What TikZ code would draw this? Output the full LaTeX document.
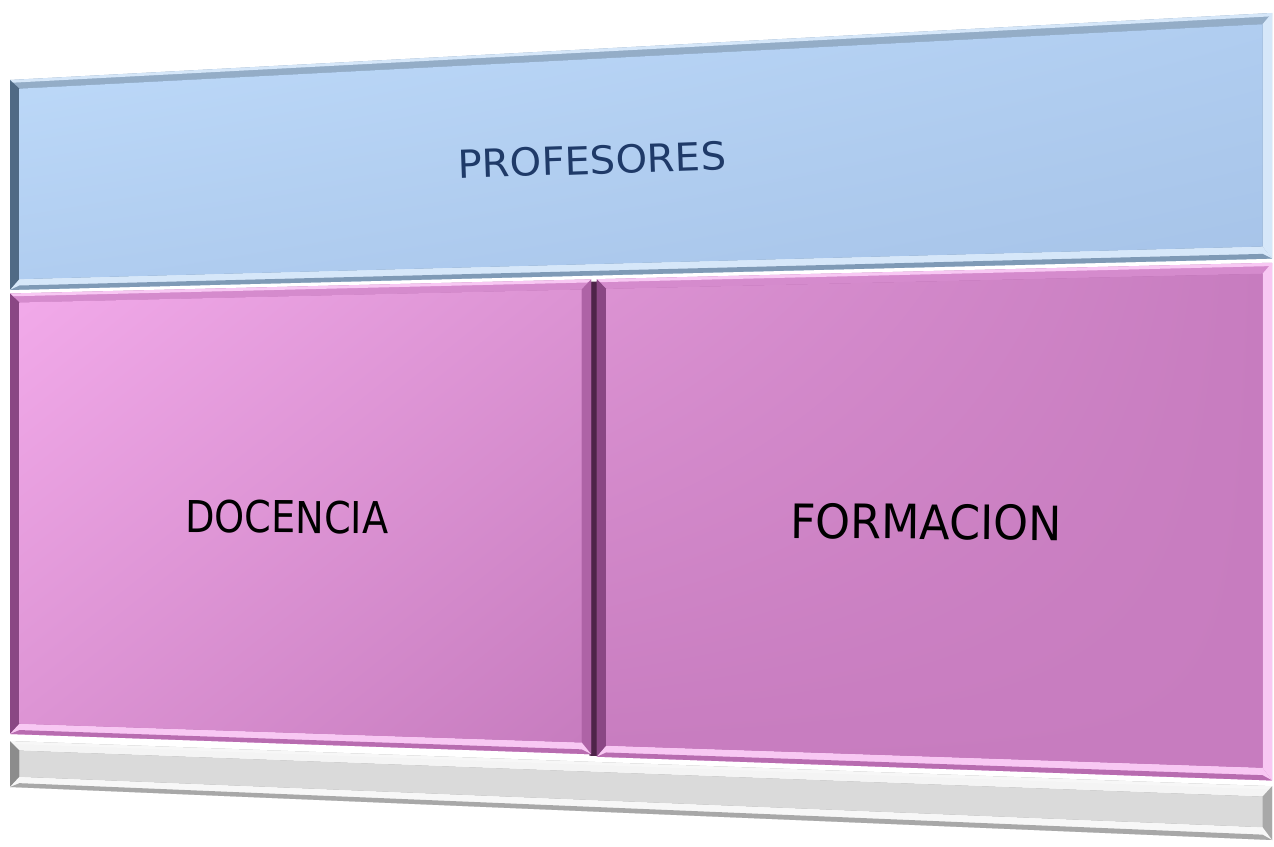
\documentclass[tikz,border=0pt]{standalone}
\usepackage{fontspec}
\setmainfont{DejaVu Sans}
\usetikzlibrary{calc,shadings}
% point of the tilted panel: u across (0..1), t down (0..1)
\newcommand{\qp}[2]{({10+1262*(#1)},{80+707*(#2)+(#1)*(-67+120*(#2))})}
\definecolor{blueA}{HTML}{BFDBFA}
\definecolor{blueB}{HTML}{B0CDF0}
\definecolor{blueC}{HTML}{A6C3E8}
\definecolor{blueDark}{HTML}{506A85}
\definecolor{blueMid}{HTML}{7F9AB6}
\definecolor{blueTop}{HTML}{94ADC7}
\definecolor{blueLight}{HTML}{D6E7F9}
\definecolor{pinkA}{HTML}{F2AAEA}
\definecolor{pinkB}{HTML}{DC93D3}
\definecolor{pinkC}{HTML}{C77CBF}
\definecolor{pinkDark}{HTML}{8A4784}
\definecolor{pinkEdge}{HTML}{AE63A6}
\definecolor{pinkGap}{HTML}{4E2449}
\definecolor{pinkMid}{HTML}{B86CB0}
\definecolor{pinkTop}{HTML}{D58BCD}
\definecolor{pinkLight}{HTML}{F8C8F3}
\definecolor{greyA}{HTML}{DADADA}
\definecolor{greyDark}{HTML}{8C8C8C}
\definecolor{greyMid}{HTML}{A8A8A8}
\definecolor{greyTop}{HTML}{F4F4F4}
\definecolor{greyLight}{HTML}{F7F7F7}
\definecolor{navy}{HTML}{1F3A68}
\tikzset{
    title/.style={
    text=navy,font=\fontsize{22}{24}\selectfont
    },
    field/.style={
    text=black
    },
}
% u1 t1 u2 t2 colour-prefix right-bevel-colour
\newcommand{\bevelbox}[6]{%
  \fill[#5Mid] \qp{#1}{#2} -- \qp{#3}{#2} -- \qp{#3}{#4} -- \qp{#1}{#4} -- cycle;
  \fill[#5Top] \qp{#1+0.0075}{#2+0.013} -- \qp{#3-0.0075}{#2+0.013} -- \qp{#3}{#2+0.002} -- \qp{#1}{#2+0.002} -- cycle;
  \fill[#5Light] \qp{#1}{#2} -- \qp{#3}{#2} -- \qp{#3}{#2+0.004} -- \qp{#1}{#2+0.004} -- cycle;
  \fill[#5Dark] \qp{#1}{#2} -- \qp{#1+0.0075}{#2+0.013} -- \qp{#1+0.0075}{#4-0.015} -- \qp{#1}{#4} -- cycle;
  \fill[#6] \qp{#3}{#2} -- \qp{#3-0.0075}{#2+0.013} -- \qp{#3-0.0075}{#4-0.015} -- \qp{#3}{#4} -- cycle;
  \fill[#5Light] \qp{#1}{#4} -- \qp{#1+0.0075}{#4-0.015} -- \qp{#3-0.0075}{#4-0.015} -- \qp{#3}{#4} -- cycle;
  \fill[#5Mid] \qp{#1+0.0075}{#4-0.006} -- \qp{#3-0.0075}{#4-0.006} -- \qp{#3}{#4} -- \qp{#1}{#4} -- cycle;
}

\begin{document}
\begin{tikzpicture}[x=0.02cm, y=-0.02cm]
  \useasboundingbox (0,0) rectangle (1274,847);

  \bevelbox{0}{0}{1}{0.297}{blue}{blueLight}
  \shade[upper left=blueA, upper right=blueB, lower left=blueB, lower right=blueC]
    \qp{0.0075}{0.013} -- \qp{0.9925}{0.013} -- \qp{0.9925}{0.282} -- \qp{0.0075}{0.282} -- cycle;

  \fill[pinkGap] \qp{0.459}{0.305} -- \qp{0.466}{0.305} -- \qp{0.466}{0.927} -- \qp{0.459}{0.927} -- cycle;

  \bevelbox{0}{0.302}{0.4605}{0.925}{pink}{pinkEdge}
  \shade[upper left=pinkA, upper right=pinkB, lower left=pinkB, lower right=pinkC]
    \qp{0.0075}{0.315} -- \qp{0.453}{0.315} -- \qp{0.453}{0.910} -- \qp{0.0075}{0.910} -- cycle;

  \bevelbox{0.465}{0.302}{1}{0.928}{pink}{pinkLight}
  \shade[upper left=pinkB, upper right=pinkC, lower left=pinkC, lower right=pinkC]
    \qp{0.4725}{0.315} -- \qp{0.9925}{0.315} -- \qp{0.9925}{0.913} -- \qp{0.4725}{0.913} -- cycle;

  \bevelbox{0}{0.935}{1}{1}{grey}{greyMid}
  \fill[greyA] \qp{0.0075}{0.948} -- \qp{0.9925}{0.948} -- \qp{0.9925}{0.985} -- \qp{0.0075}{0.985} -- cycle;

  \node[title, rotate=2, xscale=1.04] (prof) at (592,160) {PROFESORES};
  \node[field, font=\fontsize{25}{27}\selectfont, rotate=-0.3, xscale=0.87] (doc) at (287,517) {DOCENCIA};
  \node[field, font=\fontsize{27}{29}\selectfont, rotate=-0.5, xscale=0.935] (form) at (926,522) {FORMACION};
\end{tikzpicture}
\end{document}
